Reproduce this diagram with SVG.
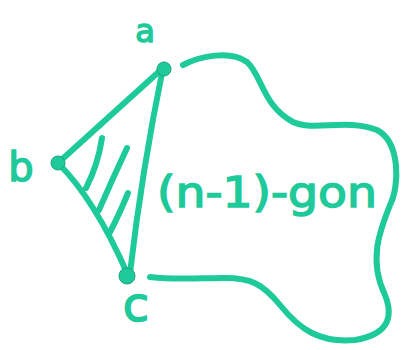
<svg xmlns="http://www.w3.org/2000/svg" width="405" height="350" viewBox="0 0 405 350">
<style>
.ink{fill:none;stroke:#1ec99a;stroke-width:6;stroke-linecap:round;stroke-linejoin:round}
.dot{fill:#1ec99a;stroke:#16a37c;stroke-width:1}
.lbl{fill:#1ec99a;stroke:#1ec99a;stroke-width:1.5;font-family:"DejaVu Sans",sans-serif}
</style>
<rect width="405" height="350" fill="#ffffff"/>
<g id="connectors">
<path class="ink" d="M163,68 L58,163"/>
<path class="ink" d="M163,68 Q142,170 130,273"/>
<path class="ink" d="M58,163 Q95,200 127,273"/>
<path class="ink" d="M183,65 C200,56 230,50 247,62 C262,75 262,105 293,122 C315,132 345,118 377,130 C400,142 400,185 390,205 C380,230 368,260 385,295 C395,320 385,335 355,340 C320,343 300,330 280,305 C262,283 250,278 225,278 C200,278 175,280 150,277"/>
<path class="ink" d="M102,138 Q98,165 86,188"/>
<path class="ink" d="M127,148 Q112,180 99,210"/>
<path class="ink" d="M128,193 Q119,215 110,232"/>
</g>
<g id="node-a">
<circle class="dot" cx="164" cy="69" r="7"/>
<text class="lbl" x="145" y="42" font-size="32" text-anchor="middle">a</text>
</g>
<g id="node-b">
<circle class="dot" cx="58" cy="163" r="7"/>
<text class="lbl" x="21" y="181" font-size="40" text-anchor="middle">b</text>
</g>
<g id="node-c">
<circle class="dot" cx="127" cy="276" r="8"/>
<text class="lbl" x="136" y="321" font-size="48" text-anchor="middle">c</text>
</g>
<g id="polygon-label">
<text class="lbl" x="157" y="207" font-size="42" textLength="220" lengthAdjust="spacingAndGlyphs">(n-1)-gon</text>
</g>
</svg>
